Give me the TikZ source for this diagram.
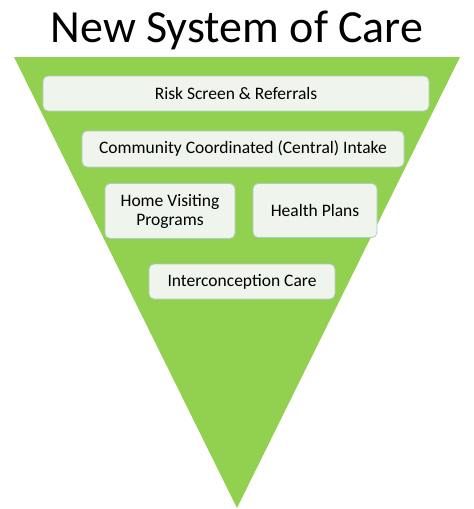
\documentclass[tikz,border=0pt]{standalone}
\usepackage{fontspec}
\setmainfont{Carlito}
\definecolor{tri}{HTML}{92D050}
\definecolor{boxfill}{HTML}{EFF5EC}
\definecolor{boxline}{HTML}{A9CDBF}
\begin{document}
\begin{tikzpicture}[x=1pt,y=-1pt,
  card/.style={draw=boxline, line width=0.8pt, fill=boxfill, rounded corners=5pt, font=\fontsize{17.5}{19}\selectfont, align=center, inner sep=0pt}]
\useasboundingbox (0,0) rectangle (474,509);
\node[font=\fontsize{46}{50}\selectfont, anchor=base] (title) at (237,42) {New System of Care};
\fill[tri] (14,57) coordinate (tl) -- (460,57) coordinate (tr) -- (237,508) coordinate (apex) -- cycle;
\node[card, minimum width=386pt, minimum height=35pt] (risk) at (236,93.5) {Risk Screen \& Referrals};
\node[card, minimum width=322pt, minimum height=36pt] (intake) at (243,149) {Community Coordinated (Central) Intake};
\node[card, minimum width=130pt, minimum height=55pt] (home) at (170,211) {Home Visiting\\Programs};
\node[card, minimum width=124pt, minimum height=54pt] (health) at (315,210.5) {Health Plans};
\node[card, minimum width=186pt, minimum height=35pt] (inter) at (242,281.5) {Interconception Care};
\end{tikzpicture}
\end{document}
